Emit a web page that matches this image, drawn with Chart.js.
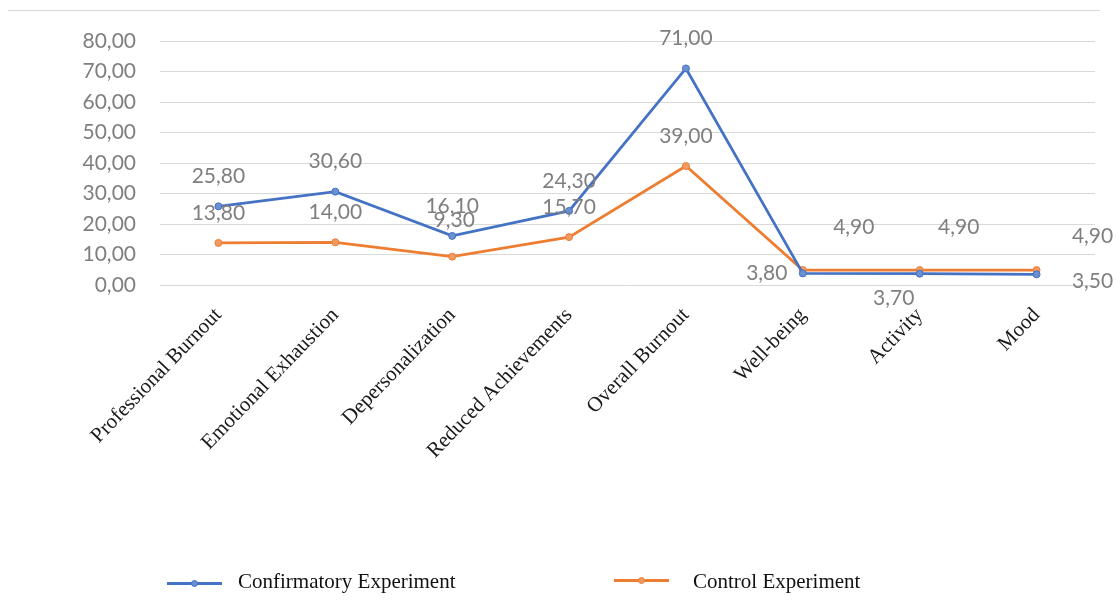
<!DOCTYPE html>
<html>
<head>
<meta charset="utf-8">
<script src="https://cdn.jsdelivr.net/npm/chart.js@4.4.1/dist/chart.umd.min.js"></script>
<style>
  html, body { margin: 0; padding: 0; background: #fff; }
  #wrap { position: relative; width: 1116px; height: 613px; overflow: hidden; }
  #topline { position: absolute; left: 8px; top: 10px; width: 1092px; height: 1px; background: #d9d9d9; }
  #chart { position: absolute; left: 0; top: 0; }
  .leg { position: absolute; top: 568px; height: 26px; font-family: "Liberation Serif", "DejaVu Serif", serif; font-size: 21px; color: #111; line-height: 26px; }
  .leg .ln { position: absolute; top: 12px; height: 3px; width: 55px; }
  .leg .dot { position: absolute; top: -2px; left: 24px; width: 5px; height: 5px; border-radius: 50%; border: 1px solid; }
  .leg .tx { position: absolute; white-space: nowrap; }
</style>
</head>
<body>
<div id="wrap">
  <div id="topline"></div>
  <canvas id="chart" width="1116" height="613"></canvas>
  <div id="legend"></div>
</div>
<script>
// data
const categories = ["Professional Burnout", "Emotional Exhaustion", "Depersonalization",
  "Reduced Achievements", "Overall Burnout", "Well-being", "Activity", "Mood"];
const confirmatory = [25.8, 30.6, 16.1, 24.3, 71.0, 3.8, 3.7, 3.5];
const control = [13.8, 14.0, 9.3, 15.7, 39.0, 4.9, 4.9, 4.9];
const seriesNames = ["Confirmatory Experiment", "Control Experiment"];
const yTicks = [0, 10, 20, 30, 40, 50, 60, 70, 80];

const BLUE = "#4472C4";
const ORANGE = "#ED7D31";

function fmt(v) {
  return v.toFixed(2).replace(".", ",");
}

// where the value labels sit relative to their point (px)
const labelShift = [
  { 5: [-36, 0], 6: [-26, 25], 7: [56, 7] },
  { 2: [2, -36], 5: [51, -43], 6: [39, -43], 7: [56, -34] }
];

const valueLabels = {
  id: "valueLabels",
  afterDatasetsDraw(chart) {
    const ctx = chart.ctx;
    ctx.save();
    ctx.font = '21px Lato, "Open Sans", sans-serif';
    ctx.fillStyle = "#7f7f7f";
    ctx.textAlign = "center";
    ctx.textBaseline = "middle";
    chart.data.datasets.forEach(function (ds, i) {
      const meta = chart.getDatasetMeta(i);
      meta.data.forEach(function (pt, j) {
        const s = labelShift[i][j] || [0, -30];
        ctx.fillText(fmt(ds.data[j]), pt.x + s[0], pt.y + s[1]);
      });
    });
    ctx.restore();
  }
};

const ctx = document.getElementById("chart").getContext("2d");
const chart = new Chart(ctx, {
  type: "line",
  data: {
    labels: categories,
    datasets: [
      {
        label: seriesNames[0],
        data: confirmatory,
        borderColor: BLUE,
        backgroundColor: "#6a8fd3",
        pointBorderColor: BLUE,
        borderWidth: 2.75,
        pointRadius: 3.5,
        pointBorderWidth: 1,
        tension: 0
      },
      {
        label: seriesNames[1],
        data: control,
        borderColor: ORANGE,
        backgroundColor: "#f19a63",
        pointBorderColor: ORANGE,
        borderWidth: 2.75,
        pointRadius: 3.5,
        pointBorderWidth: 1,
        tension: 0
      }
    ]
  },
  options: {
    responsive: false,
    animation: false,
    layout: { padding: { top: 41, right: 21, left: 0, bottom: 0 } },
    plugins: {
      legend: { display: false },
      tooltip: { enabled: false }
    },
    scales: {
      x: {
        offset: true,
        grid: { display: false },
        border: { display: false },
        ticks: {
          minRotation: 46,
          maxRotation: 46,
          padding: 10,
          color: "#1a1a1a",
          font: { family: '"Liberation Serif", "DejaVu Serif", serif', size: 21 }
        },
        afterFit(scale) { scale.height = 613 - 285; }
      },
      y: {
        min: 0,
        max: 80,
        afterBuildTicks(scale) { scale.ticks = yTicks.map(v => ({ value: v })); },
        grid: { color: "#d9d9d9", lineWidth: 1, drawTicks: false },
        border: { display: false },
        ticks: {
          padding: 24,
          color: "#7f7f7f",
          font: { family: 'Lato, "Open Sans", sans-serif', size: 21 },
          callback: v => fmt(v)
        },
        afterFit(scale) { scale.width = 160; }
      }
    }
  },
  plugins: [valueLabels]
});

// legend below the plot
const legend = document.getElementById("legend");
const legendPos = [[167, 238, 14], [614, 693, 11]];
const legendFill = ["#6a8fd3", "#f19a63"];
seriesNames.forEach(function (name, i) {
  const col = i === 0 ? BLUE : ORANGE;
  const item = document.createElement("div");
  item.className = "leg";
  item.style.left = "0px";
  item.innerHTML =
    '<div class="ln" style="left:' + legendPos[i][0] + 'px;top:' + legendPos[i][2] + 'px;background:' + col + '">' +
    '<div class="dot" style="border-color:' + col + ';background:' + legendFill[i] + '"></div></div>' +
    '<div class="tx" style="left:' + legendPos[i][1] + 'px">' + name + '</div>';
  legend.appendChild(item);
});
</script>
</body>
</html>
